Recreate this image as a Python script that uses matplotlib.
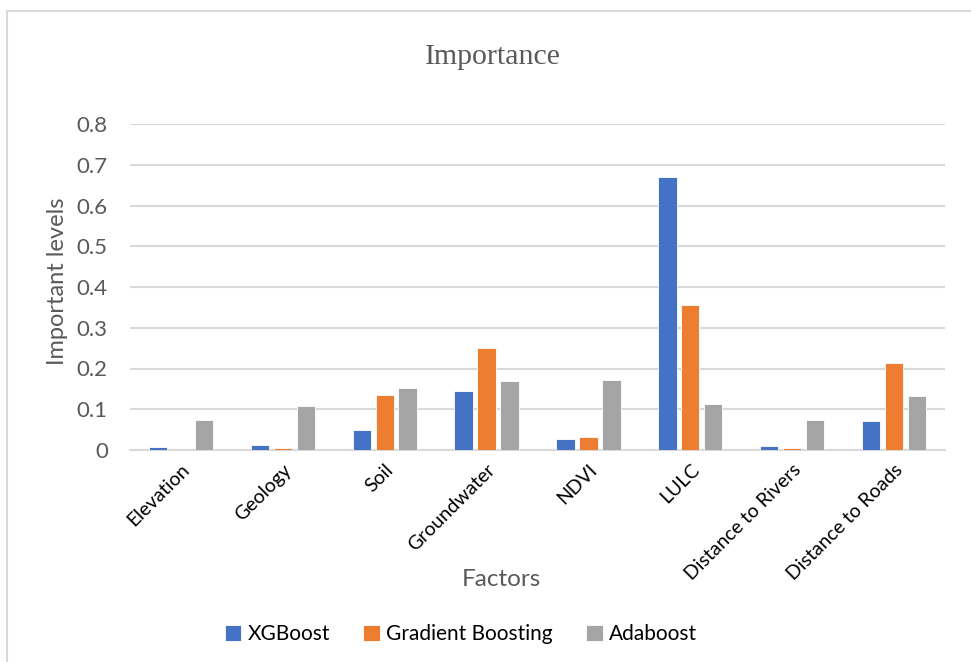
import numpy as np
import matplotlib
matplotlib.use('Agg')
import matplotlib.pyplot as plt
from matplotlib.patches import Rectangle

# factor importance per model
factors = ['Elevation', 'Geology', 'Soil', 'Groundwater', 'NDVI', 'LULC',
           'Distance to Rivers', 'Distance to Roads']
xgboost = [0.008, 0.012, 0.050, 0.145, 0.026, 0.671, 0.010, 0.071]
grad_boost = [0.0, 0.004, 0.134, 0.250, 0.033, 0.357, 0.004, 0.213]
adaboost = [0.074, 0.107, 0.152, 0.170, 0.172, 0.113, 0.074, 0.133]
yticks = [0, 0.1, 0.2, 0.3, 0.4, 0.5, 0.6, 0.7, 0.8]
ytick_labels = ['0', '0.1', '0.2', '0.3', '0.4', '0.5', '0.6', '0.7', '0.8']

plt.rcParams['font.family'] = ['Lato', 'DejaVu Sans']

fig = plt.figure(figsize=(9.71, 6.62), dpi=100)
ax = fig.add_axes([130/971, 1-450/662, (945-130)/971, (450-124)/662])

# chart frame
fig.patches.append(Rectangle((7/971, -0.1), 1.2, 1-11/662+0.1,
                             transform=fig.transFigure, fill=False,
                             edgecolor='#d9d9d9', linewidth=1.5))

x = np.arange(len(factors))
w = 0.18
off = 0.225
series = [(xgboost, '#4472c4', 'XGBoost'),
          (grad_boost, '#ed7d31', 'Gradient Boosting'),
          (adaboost, '#a5a5a5', 'Adaboost')]
for i, (vals, col, name) in enumerate(series):
    ax.bar(x + (i - 1) * off, vals, width=w, color=col, label=name,
           edgecolor='white', linewidth=0.6, zorder=3)

ax.set_xlim(-0.5, len(factors) - 0.5)
ax.set_ylim(0, 0.8)
ax.set_yticks(yticks)
ax.set_yticklabels(ytick_labels, color='#595959', fontsize=16)
ax.set_xticks(x)
ax.set_xticklabels(factors, rotation=45, ha='right', rotation_mode='anchor',
                   fontsize=14, color='black')
ax.tick_params(axis='y', length=0, pad=16)
ax.tick_params(axis='x', length=0, pad=8)
ax.grid(axis='y', color='#d9d9d9', linewidth=1.5, zorder=0)
for s in ['top', 'right', 'left']:
    ax.spines[s].set_visible(False)
ax.spines['bottom'].set_color('#d9d9d9')
ax.spines['bottom'].set_linewidth(1.5)

fig.text(57/971, 1-281/662, 'Important levels', fontsize=17, color='#595959',
         ha='center', va='center', rotation=90)
fig.text(501/971, 1-580/662, 'Factors', fontsize=17.5, color='#595959',
         ha='center', va='center')
fig.text(493/971, 1-57/662, 'Importance', fontsize=21.5, color='#595959',
         ha='center', va='center', family='Liberation Serif')

fig.legend(loc='center', bbox_to_anchor=(461/971, 1-634/662), ncol=3,
           frameon=False, fontsize=15, handlelength=0.8, handleheight=0.8,
           handletextpad=0.3, columnspacing=1.6)

fig.savefig('out.png', dpi=100)
